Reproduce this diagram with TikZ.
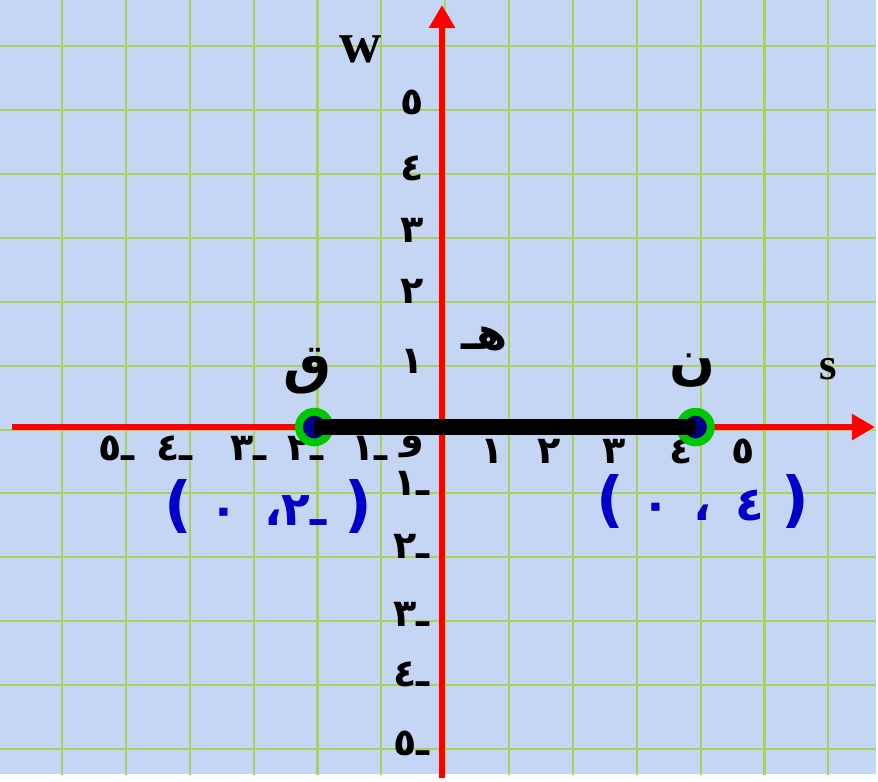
\documentclass[tikz,border=0pt]{standalone}
\usepackage{fontspec}
\setmainfont{Liberation Serif}
\newfontfamily\arabicfont[Script=Arabic]{DejaVu Sans}
\TeXXeTstate=1
\usepackage{tikz}
\usetikzlibrary{arrows.meta}
\definecolor{paper}{RGB}{197,214,244}
\definecolor{gridgreen}{RGB}{172,208,92}
\definecolor{axisred}{RGB}{255,0,0}
\definecolor{ringgreen}{RGB}{0,200,0}
\definecolor{dotnavy}{RGB}{0,0,140}
\definecolor{coordblue}{RGB}{0,0,200}
\newcommand{\pbig}[1]{{\fontsize{27}{27}\selectfont#1}}
\newcommand{\rtl}[1]{\beginR#1\endR}

\begin{document}
\begin{tikzpicture}[
    gridline/.style={draw=gridgreen,line width=0.9pt},
    axis/.style={draw=axisred,line width=2.7pt,-{Triangle[length=3.6mm,width=3.9mm]}},
    tick/.style={font=\arabicfont\bfseries\fontsize{17}{17}\selectfont,inner sep=0pt},
    pname/.style={font=\arabicfont\bfseries\fontsize{24}{24}\selectfont,inner sep=0pt},
    ptdot/.style={circle,draw=ringgreen,fill=dotnavy,line width=3.5pt,
                  minimum size=4.8mm,inner sep=0pt},
    coord/.style={text=coordblue,font=\arabicfont\bfseries\fontsize{21}{21}\selectfont,
                  inner sep=0pt},
    axname/.style={inner sep=0pt},
    segment/.style={line width=7.2pt},
]
% --- background and grid ---
\fill[paper] (-6.922,-5.4375) rectangle (6.797,6.6875);
\begin{scope}
  \clip (-6.922,-5.4375) rectangle (6.797,6.6875);
  \foreach \k in {-6,...,6} \draw[gridline] ({\k+0.05},-5.5) -- ({\k+0.05},6.7);
  \foreach \k in {-5,...,6} \draw[gridline] (-7,{\k-0.04}) -- (6.8,{\k-0.04});
\end{scope}

% --- axes ---
\coordinate (xs) at (-6.73,0);
\coordinate (xe) at (6.78,0);
\coordinate (ys) at (0,-5.5);
\coordinate (ye) at (0,6.61);
\draw[axis] (xs) -- (xe);
\draw[axis] (ys) -- (ye);
\node[axname,font=\bfseries\fontsize{26}{26}\selectfont] (wname) at (-1.27,5.91) {w};
\node[axname,font=\bfseries\fontsize{20}{20}\selectfont] (sname) at (6.05,0.91) {s};

% --- tick labels ---
\foreach \x/\d [count=\i] in {0.78/١,1.67/٢,2.69/٣,3.75/٤,4.72/٥}
  \node[tick] (xp\i) at (\x,-0.38) {\rtl{\d}};
\foreach \x/\d [count=\i] in {-1.14/ـ١,-2.14/ـ٢,-3.03/ـ٣,-4.19/ـ٤,-5.1/ـ٥}
  \node[tick] (xn\i) at (\x,-0.34) {\rtl{\d}};
\foreach \y/\d [count=\i] in {1.03/١,2.125/٢,3.08/٣,4.05/٤,5.08/٥}
  \node[tick] (yp\i) at (-0.46,\y) {\rtl{\d}};
\foreach \y/\d [count=\i] in {-0.89/ـ١,-1.875/ـ٢,-2.94/ـ٣,-3.87/ـ٤,-4.95/ـ٥}
  \node[tick] (yn\i) at (-0.48,\y) {\rtl{\d}};
\node[tick] (orig) at (-0.47,-0.31) {\rtl{و}};

% --- segment from q to n ---
\node[ptdot] (q) at (-2,0) {};
\node[ptdot] (n) at (3.97,0) {};
\draw[segment] (q.center) -- (n.center);
\node[pname] (qname) at (-2.11,0.875) {\rtl{ق}};
\node[pname] (nname) at (3.92,0.89) {\rtl{ن}};
\node[pname,font=\arabicfont\bfseries\fontsize{20}{20}\selectfont] (hname) at (0.67,1.375) {\rtl{هـ}};

% coordinates of the end points
\node[coord] (qcoord) at (-2.72,-1.24) {\pbig{)}\hspace{2.7mm}٠\hspace{4mm}ـ٢،\hspace{2.7mm}\pbig{(}};
\node[coord] (ncoord) at (4.08,-1.16) {\pbig{)}\hspace{2.7mm}٠\hspace{3.7mm}،\hspace{3.7mm}٤\hspace{2.7mm}\pbig{(}};
\end{tikzpicture}
\end{document}
